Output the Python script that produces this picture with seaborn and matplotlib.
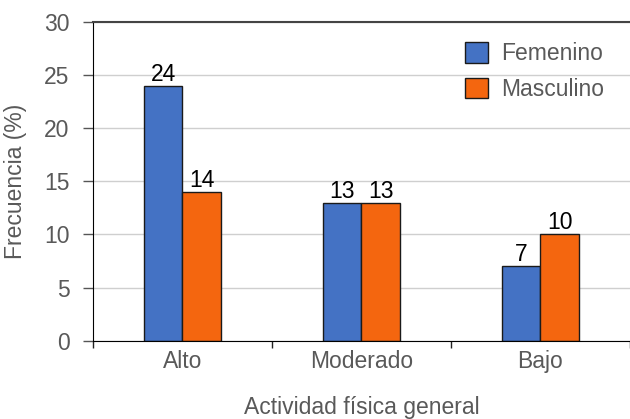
import pandas as pd
import matplotlib.pyplot as plt
import seaborn as sns

# Data
categorias = ['Alto', 'Moderado', 'Bajo']
femenino = [24, 13, 7]
masculino = [14, 13, 10]
series = ['Femenino', 'Masculino']
colores = ['#4472C4', '#F4660F']

df = pd.DataFrame({
    'actividad': categorias * 2,
    'frecuencia': femenino + masculino,
    'sexo': [series[0]] * len(categorias) + [series[1]] * len(categorias),
})

sns.set_style('white')
plt.rcParams['font.family'] = ['Liberation Sans', 'DejaVu Sans']

fs = 16.5
gris = '#595959'

fig = plt.figure(figsize=(6.3, 4.19), dpi=100)
ax = fig.add_axes([0.1476, 0.187, 0.8524, 0.7605])

sns.barplot(data=df, x='actividad', y='frecuencia', hue='sexo',
            palette=colores, width=0.432, edgecolor='#1a1a1a', linewidth=1,
            saturation=1, ax=ax)

for cont in ax.containers:
    ax.bar_label(cont, fmt='%d', fontsize=fs, color='black', padding=0)

ax.set_ylim(0, 30)
ax.set_xlim(-0.5, 2.5)
ax.set_yticks(range(0, 31, 5))
ax.yaxis.grid(True, color='#cfcfcf', linewidth=1)
ax.set_axisbelow(True)

# tick marks at category boundaries
ax.set_xticks([-0.5, 0.5, 1.5, 2.5], minor=True)
ax.tick_params(axis='x', which='major', length=0, pad=7, labelsize=fs, labelcolor=gris)
ax.tick_params(axis='x', which='minor', length=5, width=1, color='#222222', direction='out', bottom=True)
ax.tick_params(axis='y', length=7, width=1, color='#555555', direction='out', left=True,
               labelsize=fs, labelcolor=gris, pad=10)

ax.spines['right'].set_visible(False)
ax.spines['left'].set_color('black')
ax.spines['bottom'].set_color('black')
ax.spines['top'].set_color('#444444')
ax.spines['top'].set_linewidth(1.5)

ax.set_xlabel('Actividad física general', fontsize=fs, color=gris, labelpad=16)
ax.set_ylabel('Frecuencia (%)', fontsize=fs, color=gris, labelpad=12)

leg = ax.legend(loc='upper right', bbox_to_anchor=(0.952, 0.937), frameon=False,
                borderpad=0, borderaxespad=0,
                fontsize=fs, handlelength=1.0, handleheight=1.0, handletextpad=0.57,
                labelspacing=0.55)
for t in leg.get_texts():
    t.set_color(gris)

fig.savefig('out.png', dpi=100)
